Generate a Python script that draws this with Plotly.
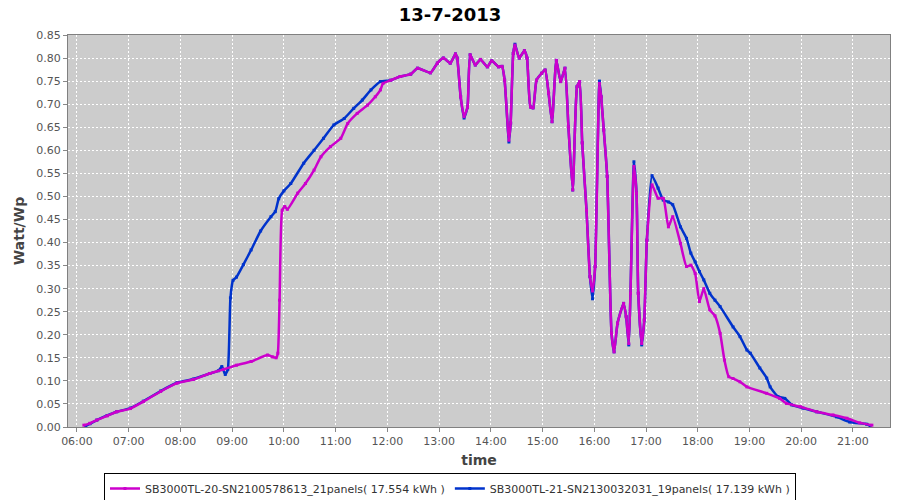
import plotly.graph_objects as go

DAY = "2013-07-13 "

title_text = "13-7-2013"
name_mag = "SB3000TL-20-SN2100578613_21panels( 17.554 kWh )"
name_blue = "SB3000TL-21-SN2130032031_19panels( 17.139 kWh )"

mag_times = [
    "06:08", "06:15", "06:23", "06:35", "06:46", "07:02", "07:17", "07:37", "07:56",
    "08:15", "08:34", "08:50", "09:05", "09:22", "09:41", "09:47", "09:51", "09:53",
    "09:55", "09:58", "10:01", "10:04", "10:16", "10:25", "10:35", "10:43", "10:54",
    "11:06", "11:14", "11:25", "11:37", "11:46", "11:52", "11:55", "12:04", "12:15",
    "12:27", "12:35", "12:50", "12:58", "13:05", "13:13", "13:19", "13:21", "13:25",
    "13:29", "13:33", "13:36", "13:42", "13:48", "13:56", "14:01", "14:09", "14:13",
    "14:16", "14:21", "14:23", "14:26", "14:28", "14:33", "14:39", "14:42", "14:46",
    "14:49", "14:53", "14:59", "15:03", "15:07", "15:11", "15:16", "15:21", "15:26",
    "15:30", "15:35", "15:40", "15:43", "15:46", "15:51", "15:55", "15:58", "16:01",
    "16:06", "16:08", "16:11", "16:15", "16:20", "16:23", "16:27", "16:34", "16:37",
    "16:40", "16:42", "16:46", "16:49", "16:51", "16:55", "16:58", "17:01", "17:07",
    "17:14", "17:20", "17:26", "17:31", "17:40", "17:47", "17:52", "17:57", "18:02",
    "18:07", "18:14", "18:20", "18:26", "18:31", "18:36", "18:41", "18:49", "18:57",
    "19:20", "19:35", "19:43", "19:59", "20:18", "20:37", "20:53", "21:08", "21:22",
]
mag_vals = [
    0.004, 0.008, 0.015, 0.024, 0.033, 0.040, 0.055, 0.077, 0.095,
    0.103, 0.116, 0.125, 0.134, 0.142, 0.156, 0.152, 0.150, 0.160,
    0.275, 0.470, 0.478, 0.472, 0.507, 0.528, 0.557, 0.586, 0.608,
    0.626, 0.658, 0.680, 0.698, 0.716, 0.731, 0.745, 0.752, 0.760,
    0.765, 0.778, 0.768, 0.789, 0.800, 0.789, 0.809, 0.800, 0.716,
    0.673, 0.694, 0.807, 0.785, 0.797, 0.781, 0.794, 0.781, 0.782,
    0.752, 0.622, 0.659, 0.810, 0.828, 0.800, 0.816, 0.800, 0.694,
    0.692, 0.752, 0.767, 0.774, 0.724, 0.662, 0.795, 0.749, 0.778,
    0.651, 0.514, 0.738, 0.749, 0.616, 0.470, 0.326, 0.295, 0.348,
    0.745, 0.716, 0.644, 0.543, 0.203, 0.163, 0.225, 0.268, 0.239,
    0.181, 0.290, 0.565, 0.507, 0.290, 0.181, 0.232, 0.405, 0.525,
    0.496, 0.496, 0.434, 0.456, 0.398, 0.348, 0.351, 0.333, 0.272,
    0.300, 0.254, 0.241, 0.203, 0.145, 0.109, 0.105, 0.098, 0.087,
    0.073, 0.062, 0.051, 0.044, 0.033, 0.026, 0.019, 0.009, 0.004,
]

blue_times = [
    "06:10", "06:15", "06:23", "06:35", "06:46", "07:02", "07:17", "07:37", "07:56",
    "08:15", "08:34", "08:44", "08:48", "08:52", "08:55", "08:58", "09:01", "09:05",
    "09:13", "09:22", "09:33", "09:45", "09:50", "09:54", "10:00", "10:08", "10:23",
    "10:35", "10:46", "10:58", "11:10", "11:21", "11:31", "11:41", "11:52", "12:04",
    "12:15", "12:27", "12:35", "12:50", "12:58", "13:05", "13:13", "13:19", "13:21",
    "13:25", "13:29", "13:33", "13:36", "13:42", "13:48", "13:56", "14:01", "14:09",
    "14:13", "14:16", "14:21", "14:23", "14:26", "14:28", "14:33", "14:39", "14:42",
    "14:46", "14:49", "14:53", "14:59", "15:03", "15:07", "15:11", "15:16", "15:21",
    "15:26", "15:30", "15:35", "15:40", "15:43", "15:46", "15:51", "15:55", "15:58",
    "16:01", "16:06", "16:08", "16:11", "16:15", "16:20", "16:23", "16:27", "16:34",
    "16:37", "16:40", "16:42", "16:46", "16:49", "16:51", "16:55", "16:58", "17:01",
    "17:07", "17:14", "17:20", "17:26", "17:31", "17:40", "17:47", "17:52", "17:57",
    "18:02", "18:07", "18:14", "18:20", "18:26", "18:41", "18:49", "18:57", "19:01",
    "19:12", "19:20", "19:24", "19:33", "19:41", "19:49", "20:02", "20:18", "20:41",
    "20:56", "21:16", "21:20",
]
blue_vals = [
    0.002, 0.007, 0.015, 0.025, 0.033, 0.041, 0.056, 0.078, 0.096,
    0.104, 0.116, 0.122, 0.131, 0.114, 0.125, 0.280, 0.318, 0.325,
    0.352, 0.384, 0.425, 0.456, 0.467, 0.495, 0.512, 0.528, 0.572,
    0.600, 0.626, 0.655, 0.669, 0.691, 0.709, 0.731, 0.749, 0.752,
    0.760, 0.765, 0.778, 0.768, 0.789, 0.800, 0.789, 0.809, 0.800,
    0.716, 0.670, 0.694, 0.807, 0.785, 0.797, 0.781, 0.794, 0.781,
    0.782, 0.752, 0.618, 0.659, 0.810, 0.830, 0.800, 0.816, 0.800,
    0.694, 0.692, 0.752, 0.767, 0.774, 0.724, 0.662, 0.795, 0.749,
    0.778, 0.651, 0.514, 0.738, 0.749, 0.616, 0.470, 0.326, 0.278,
    0.348, 0.750, 0.716, 0.644, 0.543, 0.203, 0.163, 0.225, 0.268,
    0.239, 0.178, 0.290, 0.575, 0.507, 0.290, 0.178, 0.232, 0.405,
    0.545, 0.518, 0.492, 0.488, 0.482, 0.434, 0.409, 0.377, 0.358,
    0.337, 0.319, 0.290, 0.275, 0.261, 0.217, 0.196, 0.167, 0.160,
    0.128, 0.106, 0.087, 0.066, 0.062, 0.048, 0.041, 0.033, 0.022,
    0.011, 0.006, 0.003,
]

x_range = ["05:49:36", "21:43:00"]
y_range = [0.0, 0.85]

fig = go.Figure()
# blue first so the magenta line is drawn on top, as in the reference
fig.add_trace(go.Scatter(
    x=[DAY + t for t in blue_times], y=blue_vals, name=name_blue,
    mode="lines+markers", legendrank=2,
    line=dict(color="#0033cc", width=2.5, shape="spline", smoothing=0.5),
    marker=dict(color="#0033cc", size=3, symbol="square"),
))
fig.add_trace(go.Scatter(
    x=[DAY + t for t in mag_times], y=mag_vals, name=name_mag,
    mode="lines+markers", legendrank=1,
    line=dict(color="#cc00cc", width=2.5, shape="spline", smoothing=0.5),
    marker=dict(color="#cc00cc", size=3, symbol="square"),
))

axis_font = dict(family="DejaVu Sans", size=11, color="#555555")
fig.update_layout(
    width=900, height=500,
    margin=dict(l=68, r=10, t=35, b=73, autoexpand=False),
    paper_bgcolor="white",
    plot_bgcolor="#cccccc",
    hovermode=False,
    title=dict(text="<b>" + title_text + "</b>", x=0.5, xanchor="center",
               y=1 - 15 / 500, yanchor="middle", yref="container",
               font=dict(family="DejaVu Sans", size=18, color="black")),
    xaxis=dict(
        type="date",
        range=[DAY + x_range[0], DAY + x_range[1]],
        dtick=3600000, tick0=DAY + "06:00",
        tickformat="%H:%M",
        tickfont=axis_font,
        automargin=False,
        showgrid=True, gridcolor="white", griddash="2px,2px", gridwidth=1,
        ticks="outside", ticklen=4, tickcolor="#888888",
        showline=True, linecolor="#808080", linewidth=1, mirror=True,
        zeroline=False,
        title=dict(text="<b>time</b>", font=dict(family="DejaVu Sans", size=14, color="#444444"), standoff=7),
    ),
    yaxis=dict(
        range=y_range, dtick=0.05, tick0=0, tickformat=".2f",
        tickfont=axis_font,
        automargin=False,
        showgrid=True, gridcolor="white", griddash="2px,2px", gridwidth=1,
        ticks="outside", ticklen=4, tickcolor="#888888",
        showline=True, linecolor="#808080", linewidth=1, mirror=True,
        zeroline=False,
        title=dict(text="<b>Watt/Wp</b>", font=dict(family="DejaVu Sans", size=14, color="#444444"), standoff=8),
    ),
    legend=dict(
        orientation="h", x=(450 - 68) / 822, xanchor="center",
        y=-(473 - 427) / 392, yanchor="top",
        bordercolor="black", borderwidth=1, bgcolor="white",
        font=dict(family="DejaVu Sans", size=11, color="#333333"),
        itemwidth=30, tracegroupgap=0,
    ),
    showlegend=True,
)

fig.write_html(
    "out.html",
    config={"displayModeBar": False},
    post_script="document.body.style.margin='0';document.body.style.overflow='hidden';",
)
